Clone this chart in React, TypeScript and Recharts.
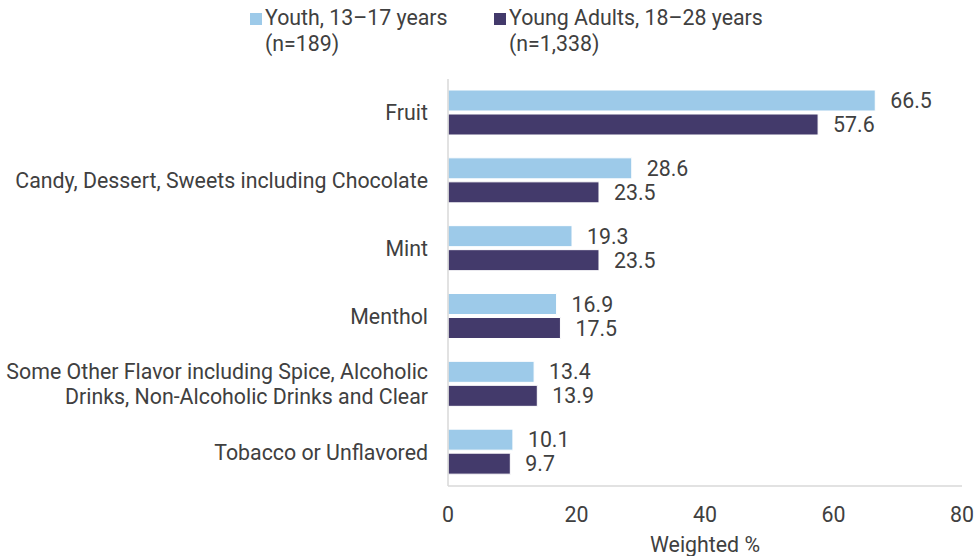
import React from "react";
import { BarChart, Bar, XAxis, YAxis, LabelList, Legend } from "recharts";

const categories = [
  "Fruit",
  "Candy, Dessert, Sweets including Chocolate",
  "Mint",
  "Menthol",
  "Some Other Flavor including Spice, Alcoholic|Drinks, Non-Alcoholic Drinks and Clear",
  "Tobacco or Unflavored",
];
const youth = [66.5, 28.6, 19.3, 16.9, 13.4, 10.1];
const youngAdults = [57.6, 23.5, 23.5, 17.5, 13.9, 9.7];
const xTicks = [0, 20, 40, 60, 80];
const seriesNames = ["Youth, 13\u201317 years|(n=189)", "Young Adults, 18\u201328 years|(n=1,338)"];

const data = categories.map((c, i) => ({ name: c, youth: youth[i], adults: youngAdults[i] }));

const FONT = "Roboto, 'Noto Sans', sans-serif";
const FS = 21.33;
const TXT = "#404040";
const C1 = "#9DCAE9";
const C2 = "#433A6B";

const YTick = (props: any) => {
  const { x, y, payload } = props;
  const lines = String(payload.value).split("|");
  const lh = 25;
  const start = -((lines.length - 1) * lh) / 2;
  return (
    <text x={x - 12} y={y} textAnchor="end" fill={TXT} fontSize={FS} fontFamily={FONT}>
      {lines.map((l, i) => (
        <tspan key={i} x={x - 12} dy={i === 0 ? start + 7.5 : lh}>
          {l}
        </tspan>
      ))}
    </text>
  );
};

const XTick = (props: any) => {
  const { x, y, payload } = props;
  return (
    <text x={x} y={y + 28} textAnchor="middle" fill={TXT} fontSize={FS} fontFamily={FONT}>
      {payload.value}
    </text>
  );
};

const LegendContent = () => {
  const items = [
    { label: seriesNames[0], color: C1, left: 250 },
    { label: seriesNames[1], color: C2, left: 494 },
  ];
  return (
    <div style={{ position: "relative", width: 976, height: 60 }}>
      {items.map((it, i) => {
        const [a, b] = it.label.split("|");
        return (
          <div key={i} style={{ position: "absolute", left: it.left, top: 5, fontFamily: FONT, fontSize: FS, color: TXT, lineHeight: "26px", textAlign: "left", whiteSpace: "nowrap" }}>
            <span style={{ display: "inline-block", width: 12, height: 12, background: it.color, marginRight: 3, verticalAlign: "0px" }} />
            {a}
            <br />
            <span style={{ paddingLeft: 15 }}>{b}</span>
          </div>
        );
      })}
    </div>
  );
};

export default function App() {
  return (
    <div style={{ position: "absolute", left: 0, top: 0, width: 976, height: 556, background: "#fff" }}>
      <BarChart
        width={976}
        height={556}
        data={data}
        layout="vertical"
        margin={{ top: 19, right: 14, bottom: 40, left: 0 }}
        barSize={21}
        barGap={3}
      >
        <Legend verticalAlign="top" align="left" content={<LegendContent />} wrapperStyle={{ top: 0, left: 0, width: 976, height: 60 }} />
        <XAxis
          type="number"
          domain={[0, 80]}
          ticks={xTicks}
          tick={<XTick />}
          tickLine={false}
          axisLine={{ stroke: "#D9D9D9", strokeWidth: 1.5 }}
          interval={0}
          label={{ value: "Weighted %", position: "insideBottom", offset: -36, fill: TXT, fontSize: FS, fontFamily: FONT }}
        />
        <YAxis
          type="category"
          dataKey="name"
          width={448}
          tick={<YTick />}
          tickLine={false}
          axisLine={{ stroke: "#D9D9D9", strokeWidth: 1.5 }}
          interval={0}
        />
        <Bar dataKey="youth" fill={C1} stroke="#fff" strokeWidth={1} isAnimationActive={false}>
          <LabelList dataKey="youth" position="right" offset={15} fill={TXT} fontSize={FS} fontFamily={FONT} formatter={(v: any) => Number(v).toFixed(1)} />
        </Bar>
        <Bar dataKey="adults" fill={C2} stroke="#fff" strokeWidth={1} isAnimationActive={false}>
          <LabelList dataKey="adults" position="right" offset={15} fill={TXT} fontSize={FS} fontFamily={FONT} formatter={(v: any) => Number(v).toFixed(1)} />
        </Bar>
      </BarChart>
    </div>
  );
}
